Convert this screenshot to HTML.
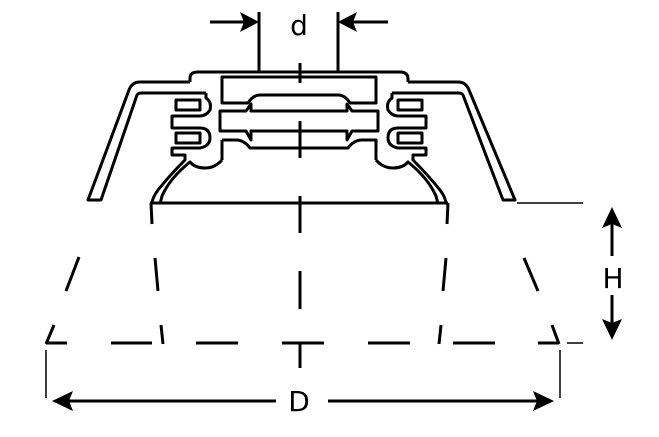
<!DOCTYPE html>
<html><head><meta charset="utf-8"><style>
html,body{margin:0;padding:0;background:#fff;}
svg{display:block;}
text{font-family:"DejaVu Sans","Liberation Sans",sans-serif;font-size:28px;fill:#000;}
</style></head><body>
<svg width="659" height="437" viewBox="0 0 659 437" xmlns="http://www.w3.org/2000/svg">
<g fill="none" stroke="#000" stroke-width="3" stroke-linejoin="round" stroke-linecap="butt">
<path d="M190,82 L140,82 Q132,82 129,90 L88,200 L101,200 L137,95 Q138,93 142,93 L206,93"/>
<path d="M408,82 L458,82 Q466,82 469,90 L515,200 L503,200 L463,95 Q462,93 458,93 L392,93"/>
<path d="M190,82 L190,78 Q190,72 198,72 L400,72 Q408,72 408,79 L408,82"/>
<path d="M222,77 L376,77 L376,103 L350,103 Q345,95 338,95 L260,95 Q253,95 248,103 L222,103 Z"/>
<path d="M220,111 L246,111 L251,104 L251,111 L347,111 L347,104 L352,111 L378,111 L378,131 L352,131 L347,140 L347,131 L251,131 L251,140 L246,131 L220,131 Z"/>
<path d="M222,140 L236,140 Q244,140 250,148 L348,148 Q354,140 362,140 L376,140 L376,160"/>
<path d="M222,140 L222,160"/>
<path d="M206,93 L206,98 Q212,102 210,110 Q206,116 200,116 L172,116 L172,128 L200,128 Q210,128 210,138 Q210,146 200,148 L172,148 L172,155 L185,155 L185,160 Q170,175 158,190 Q152,198 152,204"/>
<path d="M222,160 Q215,168 205,168 Q195,168 190,162 Q170,178 162,196 L160,204"/>
<rect x="176" y="100" width="24" height="10"/>
<rect x="176" y="133" width="24" height="10"/>
<path d="M392,93 L392,98 Q386,102 388,110 Q392,116 398,116 L426,116 L426,128 L398,128 Q388,128 388,138 Q388,146 398,148 L426,148 L426,155 L413,155 L413,160 Q428,175 440,190 Q446,198 446,204"/>
<path d="M376,160 Q383,168 393,168 Q403,168 408,162 Q428,178 436,196 L438,204"/>
<rect x="398" y="100" width="24" height="10"/>
<rect x="398" y="133" width="24" height="10"/>
<path d="M150,203 L448,203"/>
<path d="M151,203 L152,224 M448,203 L447,224"/>
<path d="M79,257 L66,291 M54,325 L46,344 M155,258 L158,291 M161,325 L163,344 M446,258 L443,291 M441,325 L439,344 M524,258 L538,291 M552,325 L559,344"/>
<path d="M46,343 L67,343 M111,343 L152,343 M196,343 L238,343 M282,343 L324,343 M368,343 L410,343 M453,343 L495,343 M538,343 L559,343"/>
<path d="M300,63 L300,83 M300,121 L300,158 M300,196 L300,233 M300,271 L300,309 M300,343 L300,368"/>
<path d="M259,12 L259,72 M338,12 L338,72"/>
</g>
<g stroke="#000" stroke-width="1.5" fill="none">
<path d="M517,203 L583,203 M567,343 L583,343 M46,350 L46,398 M560,350 L560,398"/>
</g>
<g stroke="#000" stroke-width="3" fill="none">
<path d="M210,22 L248,22 M388,22 L350,22"/>
<path d="M612,218 L612,256 M612,295 L612,330"/>
<path d="M62,401 L276,401 M328,401 L545,401"/>
</g>
<g fill="#000">
<path d="M259,22 L240,12 L244,22 L240,32 Z"/>
<path d="M338,22 L357,12 L353,22 L357,32 Z"/>
<path d="M612,207 L602,228 L612,224 L622,228 Z"/>
<path d="M612,340 L602,319 L612,323 L622,319 Z"/>
<path d="M52,401 L73,391 L69,401 L73,411 Z"/>
<path d="M554,401 L533,391 L537,401 L533,411 Z"/>
</g>
<text x="299" y="35" text-anchor="middle">d</text>
<text x="613" y="288" text-anchor="middle">H</text>
<text x="299" y="411" text-anchor="middle">D</text>
</svg>
</body></html>
